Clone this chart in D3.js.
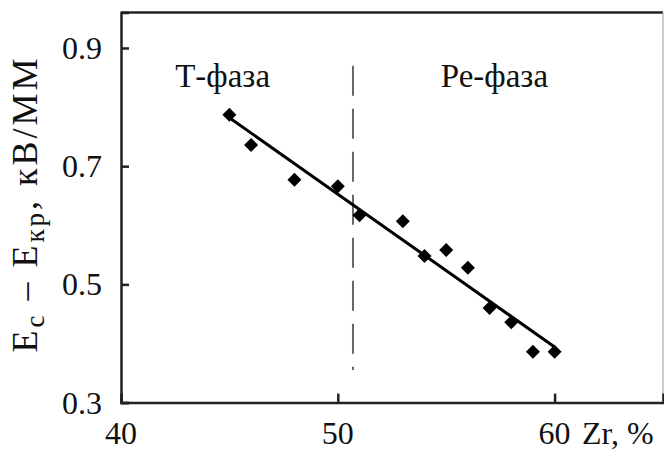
<!DOCTYPE html>
<html>
<head>
<meta charset="utf-8">
<script src="https://cdn.jsdelivr.net/npm/d3@7"></script>
<style>
  body { margin: 0; background: #fff; }
</style>
</head>
<body>
<main></main>
<script>
// data
var zr = [45, 46, 48, 50, 51, 53, 54, 55, 56, 57, 58, 59, 60];
var dE = [0.787, 0.736, 0.677, 0.666, 0.617, 0.607, 0.548, 0.558, 0.528, 0.46, 0.436, 0.386, 0.386];
var fitX = [45, 60];
var fitY = [0.782, 0.394];
var dividerX = 50.7;
var dividerY = [0.355, 0.87];
var xTicks = [40, 50, 60];
var yTicks = [0.3, 0.5, 0.7, 0.9];
var phaseNames = ['Т-фаза', 'Ре-фаза'];
var phaseX = [42.5, 54.75];

var serif = '"Liberation Serif", "Times New Roman", serif';
var points = zr.map((z, i) => ({ x: z, y: dE[i] }));

var svg = d3.select('main').append('svg')
    .attr('width', 664)
    .attr('height', 450)
    .attr('font-family', serif);

var x = d3.scaleLinear().domain([40, 65]).range([121, 663]);
var y = d3.scaleLinear().domain([0.3, 0.96]).range([402.6, 12.5]);

// frame
svg.append('line')
    .attr('x1', x(40)).attr('x2', x(65))
    .attr('y1', y(0.96)).attr('y2', y(0.96))
    .attr('stroke', '#222').attr('stroke-width', 2.5);
svg.append('line')
    .attr('x1', x(65)).attr('x2', x(65))
    .attr('y1', y(0.96)).attr('y2', y(0.3))
    .attr('stroke', '#bbb').attr('stroke-width', 1.5);

// axes with inward ticks
var yAxis = svg.append('g')
    .attr('transform', 'translate(' + x(40) + ',0)')
    .call(d3.axisRight(y).tickValues(yTicks).tickSize(8).tickFormat(''));
var xAxis = svg.append('g')
    .attr('transform', 'translate(0,' + y(0.3) + ')')
    .call(d3.axisTop(x).tickValues(xTicks).tickSize(9).tickFormat(''));
[yAxis, xAxis].forEach(g => {
    g.select('.domain').attr('stroke', '#222').attr('stroke-width', 2.5);
    g.selectAll('.tick line').attr('stroke', '#222').attr('stroke-width', 2.5);
});

// tick labels
svg.selectAll('.ylab')
    .data(yTicks)
    .enter().append('text')
    .attr('class', 'ylab')
    .attr('x', 102)
    .attr('y', d => y(d) + 11)
    .attr('text-anchor', 'end')
    .attr('font-size', 32)
    .attr('fill', '#111')
    .text(d => d.toFixed(1));

svg.selectAll('.xlab')
    .data(xTicks)
    .enter().append('text')
    .attr('class', 'xlab')
    .attr('x', d => x(d))
    .attr('y', 444)
    .attr('text-anchor', 'middle')
    .attr('font-size', 32)
    .attr('fill', '#111')
    .text(d => d);

svg.append('text')
    .attr('x', 582)
    .attr('y', 444)
    .attr('font-size', 32)
    .attr('fill', '#111')
    .text('Zr, %');

// y title
var yt = svg.append('text')
    .attr('transform', 'translate(37,204) rotate(-90)')
    .attr('text-anchor', 'middle')
    .attr('font-size', 36)
    .attr('letter-spacing', 3)
    .attr('fill', '#111');
yt.append('tspan').text('E');
yt.append('tspan').attr('font-size', 27).attr('dy', 7).text('c');
yt.append('tspan').attr('dy', -7).text(' – E');
yt.append('tspan').attr('font-size', 27).attr('dy', 7).text('кр');
yt.append('tspan').attr('dy', -7).text(', кВ/ММ');

// phase divider
svg.append('line')
    .attr('x1', x(dividerX)).attr('x2', x(dividerX))
    .attr('y1', y(dividerY[1])).attr('y2', y(dividerY[0]))
    .attr('stroke', '#666').attr('stroke-width', 2)
    .attr('stroke-dasharray', '30,13');

svg.selectAll('.phase')
    .data(phaseNames)
    .enter().append('text')
    .attr('class', 'phase')
    .attr('x', (d, i) => x(phaseX[i]))
    .attr('y', 87)
    .attr('font-size', 33)
    .attr('fill', '#111')
    .text(d => d);

// fit line
svg.append('path')
    .datum(fitX.map((v, i) => ({ x: v, y: fitY[i] })))
    .attr('fill', 'none')
    .attr('stroke', '#000')
    .attr('stroke-width', 3)
    .attr('d', d3.line().x(d => x(d.x)).y(d => y(d.y)));

// points
svg.selectAll('.pt')
    .data(points)
    .enter().append('path')
    .attr('class', 'pt')
    .attr('transform', d => 'translate(' + x(d.x) + ',' + y(d.y) + ') rotate(45)')
    .attr('d', d3.symbol(d3.symbolSquare, 98))
    .attr('fill', '#000');
</script>
</body>
</html>
